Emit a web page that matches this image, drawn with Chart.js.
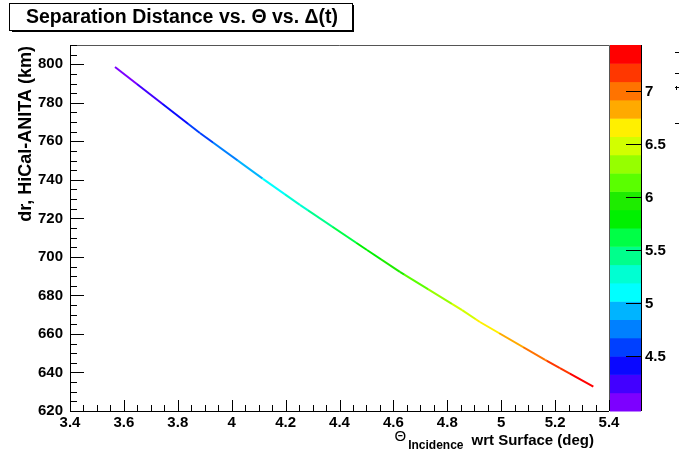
<!DOCTYPE html>
<html>
<head>
<meta charset="utf-8">
<script src="https://cdn.jsdelivr.net/npm/chart.js@4/dist/chart.umd.min.js"></script>
<style>
  html, body { margin: 0; padding: 0; background: #ffffff; }
  #wrap { width: 683px; height: 450px; position: relative; }
</style>
</head>
<body>
<div id="wrap"><canvas id="c" width="683" height="450"></canvas></div>
<script>
// Incidence angle (deg), HiCal-ANITA separation (km) and time difference along the track
const thetaDeg     = [3.567, 3.882, 4.116, 4.253, 4.502, 4.624, 4.855, 4.921, 5.163, 5.218, 5.342];
const separationKm = [798.6, 764.3, 740.5, 727.0, 703.6, 692.2, 672.4, 666.2, 646.5, 642.3, 632.6];
const deltaT       = [4.00,  4.58,  5.02,  5.30,  5.78,  6.02,  6.47,  6.60,  7.07,  7.18,  7.43];

// Axis ranges and tick labels
const xRange = [3.4, 5.4];
const yRange = [620, 810];
const zRange = [3.98, 7.43];
const zTickLabels = [4.5, 5, 5.5, 6, 6.5, 7];

// Colour palette of the z scale, lowest band first
const palette = [
  '#7d00ff', '#4200ff', '#0a08ff', '#0040ff', '#0080ff',
  '#00b4ff', '#00ffff', '#00ffd2', '#00ff8c', '#00ff46',
  '#00f000', '#1eec00', '#5aff00', '#96ff00', '#d2ff00',
  '#fff000', '#ffaa00', '#ff7300', '#ff3700', '#ff0000'
];

const FONT = '"Liberation Sans", Arial, Helvetica, sans-serif';

function bandOf(z) {
  const n = palette.length;
  const i = Math.floor((z - zRange[0]) / (zRange[1] - zRange[0]) * n);
  return Math.max(0, Math.min(n - 1, i));
}

// Stroke each segment with stepped palette colours following deltaT
function segmentColor(ctx) {
  const c = ctx.chart.ctx;
  const p0 = ctx.p0, p1 = ctx.p1;
  const z0 = deltaT[ctx.p0DataIndex], z1 = deltaT[ctx.p1DataIndex];
  const g = c.createLinearGradient(p0.x, p0.y, p1.x, p1.y);
  const n = palette.length, step = (zRange[1] - zRange[0]) / n;
  const b0 = bandOf(z0), b1 = bandOf(z1);
  g.addColorStop(0, palette[b0]);
  for (let b = b0 + 1; b <= b1; b++) {
    const zb = zRange[0] + b * step;
    const t = Math.max(0, Math.min(1, (zb - z0) / (z1 - z0)));
    g.addColorStop(t, palette[b - 1]);
    g.addColorStop(t, palette[b]);
  }
  g.addColorStop(1, palette[b1]);
  return g;
}

const decorations = {
  id: 'decorations',
  afterDraw(chart) {
    const ctx = chart.ctx;
    const a = chart.chartArea;
    const xs = chart.scales.x, ys = chart.scales.y, zs = chart.scales.z;
    ctx.save();

    // frame
    ctx.lineWidth = 1;
    ctx.strokeStyle = '#555555';
    ctx.beginPath();
    ctx.moveTo(a.left, a.top + 0.5); ctx.lineTo(a.right + 0.5, a.top + 0.5);
    ctx.lineTo(a.right + 0.5, a.bottom);
    ctx.stroke();
    ctx.strokeStyle = '#000000';
    ctx.beginPath();
    ctx.moveTo(a.left + 0.5, a.top); ctx.lineTo(a.left + 0.5, a.bottom + 0.5);
    ctx.lineTo(a.right, a.bottom + 0.5);
    ctx.stroke();

    // inward ticks, x axis
    ctx.beginPath();
    for (let k = 0; k <= 40; k++) {
      const v = xRange[0] + k * 0.05;
      const px = Math.round(xs.getPixelForValue(v)) + 0.5;
      const len = (k % 4 === 0) ? 11 : 6;
      ctx.moveTo(px, a.bottom); ctx.lineTo(px, a.bottom - len);
    }
    // inward ticks, y axis
    for (let k = 0; k <= 38; k++) {
      const v = yRange[0] + k * 5;
      const py = Math.round(ys.getPixelForValue(v)) + 0.5;
      const len = (k % 4 === 0) ? 14 : 7;
      ctx.moveTo(a.left, py); ctx.lineTo(a.left + len, py);
    }
    ctx.stroke();

    // colour scale
    const cbL = a.right + 1, cbR = a.right + 32;
    const n = palette.length, step = (zRange[1] - zRange[0]) / n;
    for (let i = 0; i < n; i++) {
      const yb = zs.getPixelForValue(zRange[0] + i * step);
      const yt = zs.getPixelForValue(zRange[0] + (i + 1) * step);
      ctx.fillStyle = palette[i];
      ctx.fillRect(cbL, yt, cbR - cbL, yb - yt + 0.5);
    }
    ctx.strokeStyle = '#000000';
    ctx.beginPath();
    ctx.moveTo(cbR + 0.5, a.top); ctx.lineTo(cbR + 0.5, a.bottom);
    zTickLabels.forEach(v => {
      const py = Math.round(zs.getPixelForValue(v)) + 0.5;
      ctx.moveTo(cbR, py); ctx.lineTo(cbR - 15, py);
    });
    ctx.stroke();
    ctx.fillStyle = '#000000';
    ctx.font = 'bold 15px ' + FONT;
    ctx.textAlign = 'left';
    ctx.textBaseline = 'middle';
    zTickLabels.forEach(v => {
      ctx.fillText(String(v), cbR + 4, zs.getPixelForValue(v) + 1);
    });
    // small marks at the right edge
    ctx.beginPath();
    [52, 73, 87, 123].forEach(y => { ctx.moveTo(675, y + 0.5); ctx.lineTo(679, y + 0.5); });
    ctx.moveTo(676.5, 86); ctx.lineTo(676.5, 90);
    ctx.stroke();

    // title box
    ctx.fillStyle = '#ffffff';
    ctx.fillRect(10, 3, 342, 27);
    ctx.fillStyle = '#000000';
    ctx.fillRect(352, 5, 2, 27);
    ctx.fillRect(12, 30, 342, 2);
    ctx.strokeStyle = '#000000';
    ctx.strokeRect(9.5, 3.5, 343, 27);
    ctx.font = 'bold 19.5px ' + FONT;
    ctx.textAlign = 'center';
    ctx.textBaseline = 'alphabetic';
    ctx.fillText('Separation Distance vs. \u0398 vs. \u0394(t)', 182, 23);

    // x axis title
    ctx.textAlign = 'right';
    ctx.font = 'bold 15px ' + FONT;
    const main = 'wrt Surface (deg)';
    const mainRight = 594;
    ctx.fillText(main, mainRight, 445);
    const mainLeft = mainRight - ctx.measureText(main).width;
    ctx.font = 'bold 12px ' + FONT;
    const sub = 'Incidence';
    const subRight = mainLeft - 8;
    ctx.fillText(sub, subRight, 449);
    const subLeft = subRight - ctx.measureText(sub).width;
    ctx.font = '15px ' + FONT;
    ctx.fillText('\u0398', subLeft - 2, 441);

    // y axis title
    ctx.translate(31, 46);
    ctx.rotate(-Math.PI / 2);
    ctx.font = 'bold 18px ' + FONT;
    ctx.textAlign = 'right';
    ctx.fillText('dr, HiCal-ANITA (km)', 0, 0);

    ctx.restore();
  }
};

new Chart(document.getElementById('c'), {
  type: 'scatter',
  data: {
    datasets: [{
      data: thetaDeg.map((x, i) => ({ x: x, y: separationKm[i] })),
      showLine: true,
      pointRadius: 0,
      borderWidth: 2,
      borderColor: palette[0],
      segment: { borderColor: segmentColor }
    }]
  },
  options: {
    responsive: false,
    animation: false,
    events: [],
    layout: { padding: { left: 0, right: 74, top: 45, bottom: 0 } },
    plugins: { legend: { display: false }, tooltip: { enabled: false }, title: { display: false } },
    scales: {
      x: {
        type: 'linear',
        min: xRange[0], max: xRange[1],
        grid: { display: false, drawTicks: false },
        border: { display: false },
        ticks: {
          stepSize: 0.2, autoSkip: false, maxRotation: 0, padding: 3,
          color: '#000000', font: { family: FONT, size: 15, weight: 'bold' },
          callback: v => String(Math.round(v * 10) / 10)
        },
        afterFit(scale) { scale.height = 39; }
      },
      y: {
        type: 'linear',
        min: yRange[0], max: yRange[1],
        grid: { display: false, drawTicks: false },
        border: { display: false },
        ticks: {
          stepSize: 20, includeBounds: false, padding: 7,
          color: '#000000', font: { family: FONT, size: 15, weight: 'bold' }
        },
        afterFit(scale) { scale.width = 70; }
      },
      z: {
        type: 'linear',
        position: 'right',
        display: false,
        min: zRange[0], max: zRange[1]
      }
    }
  },
  plugins: [decorations]
});
</script>
</body>
</html>
